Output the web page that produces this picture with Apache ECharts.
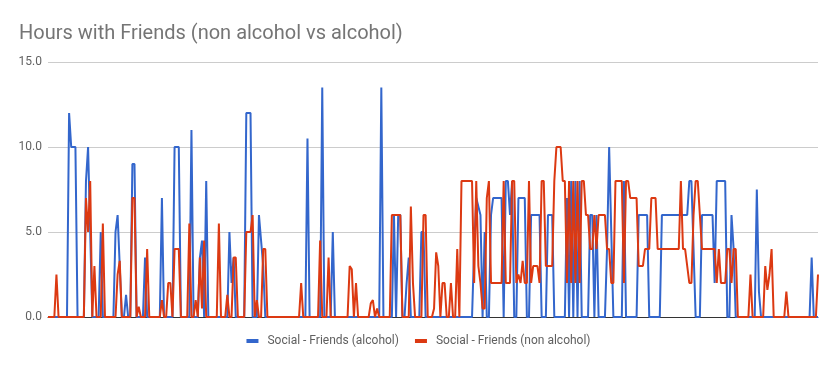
<!DOCTYPE html>
<html>
<head>
<meta charset="utf-8">
<script src="https://cdn.jsdelivr.net/npm/echarts@6/dist/echarts.min.js"></script>
<style>
html,body{margin:0;padding:0;background:#fff;}
#chart{width:837px;height:371px;}
</style>
</head>
<body>
<div id="chart"></div>
<script>
const titleText = 'Hours with Friends (non alcohol vs alcohol)';
const seriesNames = ['Social - Friends (alcohol)', 'Social - Friends (non alcohol)'];
const yTicks = [0, 5, 10, 15];

const alcohol = [
0,0,0,0,0,0,0,0,0,0,
12,10,10,10,0,0,0,0,8,10,
5,0,0,0,0,5,0,0,0,0,
0,0,5,6,3,0,0,1.3,0,0,
9,9,0,0,0,0,3.5,0,0,0,
0,0,0,0,7,0,0,0,0,0,
10,10,10,0,0,0,0,0,11,0,
0,0,3.5,4.5,0,8,0,0,0,0,
0,0,0,0,0,0,5,2,3.5,0,
0,0,0,0,12,12,12,0,0,0,
6,4.5,3,0,0,0,0,0,0,0,
0,0,0,0,0,0,0,0,0,0,
0,0,0,10.5,0,0,0,0,0,0,
13.5,0,0,0,0,5,0,0,0,0,
0,0,0,0,0,0,0,0,0,0,
0,0,0,0,0,0,0,0,13.5,0,
0,0,0,0,6,0,6,6,0,0,
2,3.5,0,0,0,0,0,5,5,0,
0,0,0,0,0,0,0,0,0,0,
0,0,0,0,0,0,0,0,0,0,
0,0,4,7,6.5,6,0,5,0,0,
6,7,7,7,7,7,0,8,8,6,
8,0,0,7,7,7,7,0,0,6,
6,6,6,6,0,0,0,6,6,6,
0,0,0,0,0,0,7,0,8,0,
8,0,8,0,0,0,0,6,6,0,
6,0,0,0,0,4,10,5,0,0,
0,0,0,8,0,0,0,0,0,0,
6,6,6,6,6,0,0,0,0,0,
0,6,6,6,6,6,6,6,6,6,
6,6,6,6,8,8,4,0,0,0,
6,6,6,6,6,6,2,8,8,8,
8,8,0,0,6,4,0,0,0,0,
0,0,0,0,0,0,7.5,1.5,0,0,
0,0,0,0,0,0,0,0,0,0,
0,0,0,0,0,0,0,0,0,0,
0,0,3.5,0,0,0
];

const nonAlcohol = [
0,0,0,0,2.5,0,0,0,0,0,
0,0,0,0,0,0,0,0,7,5,
8,0,3,0,0,0,5.5,0,0,0,
0,0,0,2.5,3.3,0,0,0,0,0,
7,7,0,0.6,0,0,0,4,0,0,
0,0,0,0,1,0,0,2,2,0,
4,4,4,0,0,0,0,5.5,0,0,
1,0,3.5,0.5,4.5,0,0,0,0,0,
0,5.5,0,0,0,1.3,0,0,3.5,3.5,
0,0,0,0,5,5,5,6,0,1,
0,0,4,4,0,0,0,0,0,0,
0,0,0,0,0,0,0,0,0,0,
2,0,0,0,0,0,0,0,0,4.5,
0,0,0,3.5,0,0,0,0,0,0,
0,0,0,3,2.8,0,2,0,0,0,
0,0,0,0.8,1,0,0.5,0,0,0,
0,0,0,6,6,6,6,6,0,0,
0,0,6.5,2,0,0,0,0,6,6,
0,0,0,0.5,3.8,3,0,2,2,0,
0,2,0,0,4,0,8,8,8,8,
8,8,2,8,3,2,0.5,0.5,7,8,
2,2,2,2,2,2,8,2,2,2,
8,8,2,2.5,2,3.3,2,2,8,2,
3,3,3,2,8,8,3,3,3,3,
8,10,10,10,8,8,2,8,2,8,
2,8,2,8,8,6,6,4,4,6,
4,6,6,6,6,4,4,2,2,8,
8,8,8,2,8,8,7,7,7,7,
3,3,3,4,4,4,7,7,7,4,
4,4,4,4,4,4,4,4,4,4,
8,4,4,3,2,2,6,8,8,6,
4,4,4,4,4,4,4,2,4,2,
2,2,4,4,2,4,4,0,0,0,
0,0,0,2.5,0,0,0,0,0,0,
3,1.6,2.5,4,0,0,0,0,0,0,
1.5,0,0,0,0,0,0,0,0,0,
0,0,0,0,0,2.5
];

const categories = alcohol.map((_, i) => String(i + 1));

const chart = echarts.init(document.getElementById('chart'), null, {renderer: 'canvas'});
chart.setOption({
  animation: false,
  backgroundColor: '#ffffff',
  title: {
    text: titleText,
    left: 14,
    top: 19,
    textStyle: {fontFamily: 'Roboto', fontSize: 20, fontWeight: 'normal', color: '#757575'}
  },
  legend: {
    data: seriesNames,
    bottom: 19,
    left: 'center',
    icon: 'rect',
    itemWidth: 12,
    itemHeight: 4,
    itemGap: 16,
    textStyle: {fontFamily: 'Roboto', fontSize: 12, color: '#5f5f5f', padding: [0, 0, 0, 4]}
  },
  grid: {left: 48, right: 19, top: 62, bottom: 54, containLabel: false},
  xAxis: {
    type: 'category',
    data: categories,
    boundaryGap: false,
    axisLabel: {show: false},
    axisTick: {show: false},
    axisLine: {show: true, lineStyle: {color: '#333333', width: 1}},
    splitLine: {show: false}
  },
  yAxis: {
    type: 'value',
    min: yTicks[0],
    max: yTicks[yTicks.length - 1],
    interval: 5,
    axisLabel: {fontFamily: 'Roboto', fontSize: 12, color: '#616161', margin: 6,
      formatter: v => v.toFixed(1)},
    axisTick: {show: false},
    axisLine: {show: false},
    splitLine: {lineStyle: {color: '#cccccc', width: 1}}
  },
  series: [
    {
      name: seriesNames[0], type: 'line', data: alcohol,
      showSymbol: false, symbol: 'none',
      itemStyle: {color: '#3366cc'},
      lineStyle: {color: '#3366cc', width: 2}
    },
    {
      name: seriesNames[1], type: 'line', data: nonAlcohol,
      showSymbol: false, symbol: 'none',
      itemStyle: {color: '#dc3912'},
      lineStyle: {color: '#dc3912', width: 2}
    }
  ]
});
</script>
</body>
</html>
